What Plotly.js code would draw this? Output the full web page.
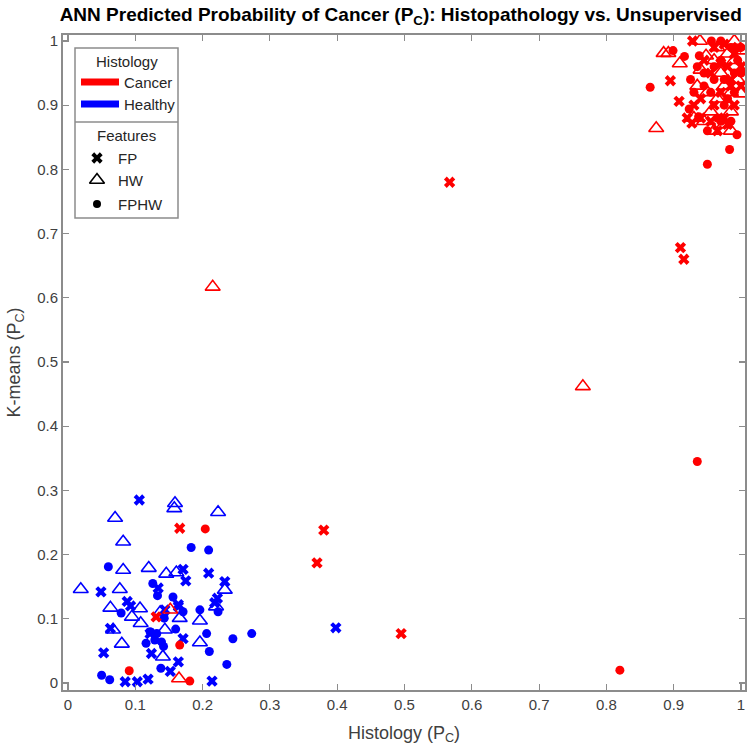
<!DOCTYPE html>
<html><head><meta charset="utf-8">
<script src="https://cdn.plot.ly/plotly-3.0.1.min.js"></script>
<style>html,body{margin:0;padding:0;background:#fff}#chart{width:749px;height:751px}</style>
</head><body><div id="chart"></div>
<script>
// Healthy (blue)
const healthyFP_x = [0.106,0.171,0.175,0.209,0.049,0.134,0.164,0.088,0.093,0.122,0.144,0.164,0.222,0.233,0.218,0.171,0.124,0.164,0.152,0.119,0.214,0.085,0.103,0.053,0.063,0.398];
const healthyFP_y = [0.285,0.177,0.159,0.171,0.142,0.148,0.122,0.127,0.120,0.077,0.114,0.119,0.132,0.158,0.125,0.069,0.046,0.033,0.018,0.006,0.003,0.002,0.002,0.047,0.085,0.086];
const healthyHW_x = [0.159,0.158,0.070,0.223,0.082,0.082,0.120,0.146,0.161,0.019,0.077,0.063,0.107,0.095,0.108,0.166,0.196,0.220,0.233,0.196,0.144,0.141,0.080,0.067,0.137];
const healthyHW_y = [0.280,0.272,0.257,0.266,0.220,0.176,0.179,0.170,0.172,0.146,0.146,0.117,0.116,0.103,0.093,0.101,0.097,0.119,0.145,0.063,0.083,0.041,0.061,0.083,0.110];
const healthyFPHW_x = [0.183,0.209,0.060,0.126,0.133,0.156,0.079,0.171,0.143,0.196,0.223,0.206,0.210,0.245,0.273,0.236,0.160,0.116,0.129,0.139,0.142,0.132,0.122,0.138,0.050,0.062];
const healthyFPHW_y = [0.211,0.207,0.181,0.155,0.136,0.134,0.109,0.111,0.101,0.114,0.111,0.077,0.049,0.069,0.077,0.029,0.084,0.062,0.067,0.064,0.057,0.077,0.080,0.023,0.012,0.005];
// Cancer (red)
const cancerFP_x = [0.166,0.131,0.370,0.380,0.495,0.567,0.910,0.915,0.928,0.895,0.908,0.927,0.960,0.975,0.990,0.940,0.955,0.970,0.985,1.000,0.930,0.965,0.990,0.945,0.975,0.920,0.980,0.960,0.995,0.985,0.970,0.955,0.980,1.000,0.940];
const cancerFP_y = [0.241,0.103,0.187,0.238,0.077,0.780,0.678,0.660,1.000,0.938,0.906,0.872,0.990,0.995,0.980,0.880,0.950,0.920,0.930,0.960,0.900,0.860,0.900,0.970,0.880,0.880,0.960,0.900,0.990,0.940,0.965,0.875,0.870,0.930,0.910];
const cancerHW_x = [0.152,0.165,0.215,0.765,0.939,0.885,0.892,0.948,0.909,0.874,1.000,0.960,0.975,0.985,0.950,0.970,0.990,0.935,0.960,0.980,0.955,0.995,0.965,0.940,0.985,0.975,0.990,1.000,0.965,0.945,0.985,0.930];
const cancerHW_y = [0.114,0.007,0.617,0.462,1.000,0.981,0.981,0.977,0.965,0.864,0.918,0.860,0.870,0.890,0.920,0.950,1.000,0.930,0.970,0.980,0.890,0.940,0.910,0.955,0.860,0.930,0.970,0.985,0.990,0.875,0.920,0.880];
const cancerFPHW_x = [0.204,0.166,0.181,0.091,0.820,0.935,0.899,0.916,0.938,0.956,0.865,0.923,0.937,0.994,0.983,0.950,0.960,0.970,0.985,0.945,0.955,0.975,0.990,0.965,0.930,0.980,1.000,0.970,0.950,0.925,0.990,0.975,0.960,0.995,0.985,0.945,0.970,1.000,0.935];
const cancerFPHW_y = [0.240,0.059,0.003,0.019,0.020,0.345,0.985,0.976,0.977,1.000,0.928,0.894,0.882,0.854,0.831,0.808,0.940,0.970,0.990,0.950,0.920,0.900,0.950,0.880,0.920,0.910,0.990,1.000,0.860,0.940,0.920,0.940,0.960,0.970,0.875,0.930,0.875,0.950,0.960];

const RED = '#ff0000', BLUE = '#0000ff';
const FONT = 'Liberation Sans, Arial, sans-serif';
const TXT = '#404040';
const sym = {FP:{symbol:'x', size:10}, HW:{symbol:'triangle-up-open', size:13, line:{width:1.6}}, FPHW:{symbol:'circle', size:9}};

function pts(x, y, color, f, xa, ya) {
  const m = Object.assign({color: color}, sym[f]);
  if (m.line) m.line = Object.assign({color: color}, m.line); else m.line = {width:0};
  return {x:x, y:y, type:'scatter', mode:'markers', marker:m, showlegend:false, hoverinfo:'x+y', xaxis:xa||'x', yaxis:ya||'y'};
}
const traces = [
  pts(healthyHW_x, healthyHW_y, BLUE, 'HW'),
  pts(healthyFPHW_x, healthyFPHW_y, BLUE, 'FPHW'),
  pts(healthyFP_x, healthyFP_y, BLUE, 'FP'),
  pts(cancerHW_x, cancerHW_y, RED, 'HW'),
  pts(cancerFPHW_x, cancerFPHW_y, RED, 'FPHW'),
  pts(cancerFP_x, cancerFP_y, RED, 'FP')
];

// Legend (drawn on an overlay axis measured in pixels of the page)
const legX0 = 75, legX1 = 178, legY0 = 48, legDiv = 122, legY1 = 218;
const featNames = ['FP', 'HW', 'FPHW'];
const featY = [158, 180, 204];
const featMarkers = [
  {symbol:'x', size:10, color:'#000', line:{width:0}},
  {symbol:'triangle-up-open', size:13, color:'#000', line:{width:1.6, color:'#000'}},
  {symbol:'circle', size:8, color:'#000', line:{width:0}}
];
featNames.forEach((n, i) => {
  traces.push({x:[97], y:[featY[i]], type:'scatter', mode:'markers', marker:featMarkers[i],
    showlegend:false, hoverinfo:'skip', xaxis:'x2', yaxis:'y2', cliponaxis:false});
});
const histNames = ['Cancer', 'Healthy'];
const histColors = [RED, BLUE];
const histY = [82, 104];

const shapes = [
  {type:'rect', xref:'x2', yref:'y2', x0:legX0, x1:legX1, y0:legY0, y1:legY1, line:{color:'#8c8c8c', width:1.5}, fillcolor:'#fff', layer:'below'},
  {type:'line', xref:'x2', yref:'y2', x0:legX0, x1:legX1, y0:legDiv, y1:legDiv, line:{color:'#8c8c8c', width:1.5}, layer:'above'}
];
histNames.forEach((n, i) => {
  shapes.push({type:'line', xref:'x2', yref:'y2', x0:81, x1:119, y0:histY[i], y1:histY[i], line:{color:histColors[i], width:7}, layer:'above'});
});
const annotations = [
  {xref:'x2', yref:'y2', x:(legX0+legX1)/2, y:61, text:'Histology', showarrow:false, xanchor:'center', yanchor:'middle', font:{family:FONT, size:15, color:'#262626'}},
  {xref:'x2', yref:'y2', x:(legX0+legX1)/2, y:135, text:'Features', showarrow:false, xanchor:'center', yanchor:'middle', font:{family:FONT, size:15, color:'#262626'}}
];
histNames.forEach((n, i) => annotations.push({xref:'x2', yref:'y2', x:122, y:histY[i], text:n, showarrow:false, xanchor:'left', yanchor:'middle', font:{family:FONT, size:15, color:'#262626'}}));
featNames.forEach((n, i) => annotations.push({xref:'x2', yref:'y2', x:116, y:featY[i], text:n, showarrow:false, xanchor:'left', yanchor:'middle', font:{family:FONT, size:15, color:'#262626'}}));

const axisCommon = {
  showline:true, linecolor:'#8c8c8c', linewidth:2, mirror:'ticks',
  ticks:'inside', ticklen:6, tickcolor:'#8c8c8c', tickwidth:1.2,
  showgrid:false, zeroline:false, dtick:0.1, tick0:0,
  tickfont:{family:FONT, size:15, color:TXT}
};

const layout = {
  width:749, height:751,
  margin:{l:63, r:4, t:35, b:61},
  paper_bgcolor:'#fff', plot_bgcolor:'#fff',
  title:{text:'ANN Predicted Probability of Cancer (P<sub>C</sub>): Histopathology vs. Unsupervised',
         font:{family:FONT, size:19, color:'#000', weight:'bold'}, x:0.535, xanchor:'center', y:0.99, yanchor:'top'},
  xaxis:Object.assign({}, axisCommon, {range:[-0.0074, 1.0059],
    title:{text:'Histology (P<sub>C</sub>)', font:{family:FONT, size:18, color:TXT}, standoff:14}}),
  yaxis:Object.assign({}, axisCommon, {range:[-0.0109, 1.0093],
    title:{text:'K-means (P<sub>C</sub>)', font:{family:FONT, size:18, color:TXT}, standoff:12}}),
  xaxis2:{overlaying:'x', range:[63, 745], visible:false, fixedrange:true},
  yaxis2:{overlaying:'y', range:[690, 35], visible:false, fixedrange:true},
  shapes:shapes,
  annotations:annotations,
  showlegend:false
};
Plotly.newPlot('chart', traces, layout, {displayModeBar:false, staticPlot:true});
</script></body></html>
